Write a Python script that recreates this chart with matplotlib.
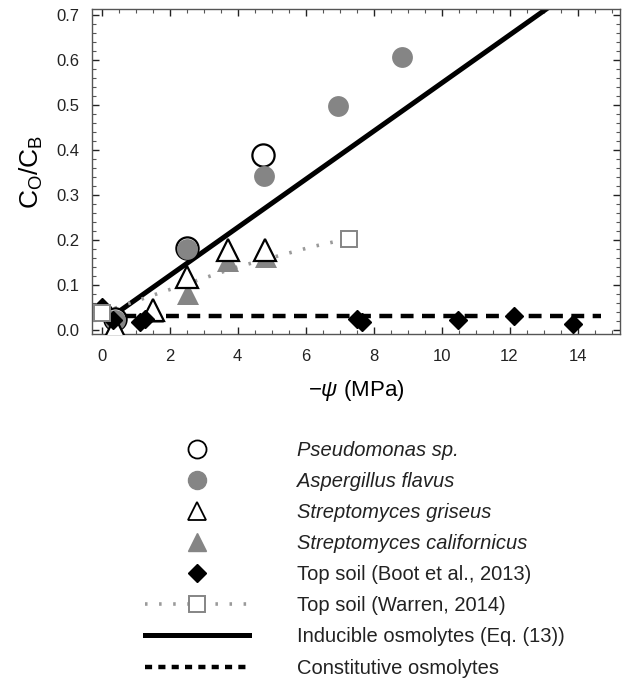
import matplotlib
matplotlib.use('Agg')
import matplotlib.pyplot as plt
from matplotlib.lines import Line2D
from matplotlib.ticker import MultipleLocator, FormatStrFormatter

plt.rcParams['font.family'] = ['Liberation Sans', 'DejaVu Sans']
plt.rcParams['mathtext.fontset'] = 'custom'
plt.rcParams['mathtext.rm'] = 'Liberation Sans'
plt.rcParams['mathtext.it'] = 'Liberation Sans:italic'

# data
pseudo_x = [0.4, 2.5, 4.75]
pseudo_y = [0.025, 0.181, 0.388]

asper_x = [0.4, 2.5, 4.78, 6.96, 8.85]
asper_y = [0.022, 0.180, 0.343, 0.497, 0.607]

griseus_x = [0.4, 1.5, 2.52, 3.72, 4.8]
griseus_y = [0.005, 0.045, 0.118, 0.178, 0.178]

calif_x = [0.4, 1.52, 2.55, 3.72, 4.85]
calif_y = [0.000, 0.040, 0.080, 0.153, 0.162]

boot_x = [0.0, 0.33, 1.13, 1.27, 7.5, 7.65, 10.49, 12.12, 13.87]
boot_y = [0.050, 0.022, 0.018, 0.025, 0.024, 0.017, 0.023, 0.031, 0.014]

warren_x = [0.0, 7.27]
warren_y = [0.038, 0.203]
warren_fit_x = [0.0, 1.7, 4.0, 6.2, 7.27]
warren_fit_y = [0.038, 0.082, 0.140, 0.185, 0.203]

induc_x = [0.4, 14.0]
induc_y = [0.035, 0.762]

const_x = [0.0, 14.7]
const_y = [0.030, 0.030]

labels = ['Pseudomonas sp.', 'Aspergillus flavus', 'Streptomyces griseus',
          'Streptomyces californicus', 'Top soil (Boot et al., 2013)',
          'Top soil (Warren, 2014)', 'Inducible osmolytes (Eq. (13))',
          'Constitutive osmolytes']

gray = '#858585'

fig = plt.figure(figsize=(6.28, 6.80), dpi=100)
ax = fig.add_axes([92/628, 1-334/680, 528/628, 325/680])

ax.plot(induc_x, induc_y, color='black', lw=3.6, solid_capstyle='butt', zorder=2)
ax.plot(const_x, const_y, color='black', lw=3.2, dashes=(2.9, 1.9), zorder=2)
ax.plot(warren_fit_x, warren_fit_y, color='#9a9a9a', lw=2.6, dashes=(0.7, 3.2), zorder=2)

ax.plot(pseudo_x, pseudo_y, 'o', ms=16, mfc='white', mec='black', mew=1.6, zorder=3)
ax.plot(asper_x, asper_y, 'o', ms=15, mfc=gray, mec=gray, mew=0, zorder=4)
ax.plot(calif_x, calif_y, '^', ms=16, mfc=gray, mec=gray, mew=0, zorder=3)
ax.plot(griseus_x, griseus_y, '^', ms=16, mfc='white', mec='black', mew=1.6, zorder=4)
ax.plot(boot_x, boot_y, 'D', ms=9.5, mfc='black', mec='black', zorder=5)
ax.plot(warren_x, warren_y, 's', ms=12, mfc='white', mec=gray, mew=1.4, zorder=5)

ax.set_xlim(-0.28, 15.25)
ax.set_ylim(-0.009, 0.713)
ax.xaxis.set_major_locator(MultipleLocator(2))
ax.xaxis.set_minor_locator(MultipleLocator(0.5))
ax.yaxis.set_major_locator(MultipleLocator(0.1))
ax.yaxis.set_minor_locator(MultipleLocator(0.02))
ax.yaxis.set_major_formatter(FormatStrFormatter('%.1f'))
ax.tick_params(which='both', direction='in', top=True, right=True, color='#555555')
ax.tick_params(which='major', length=5, width=1, labelsize=12, colors='#222222')
ax.tick_params(which='minor', length=3, width=0.8)
ax.tick_params(axis='x', pad=11)
ax.tick_params(axis='y', pad=9)
for s in ax.spines.values():
    s.set_color('#555555')
    s.set_linewidth(1)

ax.set_xlabel(r'$-\mathit{\psi}$ (MPa)', fontsize=16, labelpad=10)
ax.set_ylabel(r'$\mathregular{C_O/C_B}$', fontsize=19, labelpad=8)

handles = [
    Line2D([], [], ls='none', marker='o', ms=13, mfc='white', mec='black', mew=1.3),
    Line2D([], [], ls='none', marker='o', ms=13, mfc=gray, mec=gray),
    Line2D([], [], ls='none', marker='^', ms=13, mfc='white', mec='black', mew=1.3),
    Line2D([], [], ls='none', marker='^', ms=13, mfc=gray, mec=gray),
    Line2D([], [], ls='none', marker='D', ms=9, mfc='black', mec='black'),
    Line2D([], [], color='#9a9a9a', lw=2.6, dashes=(0.7, 3.2), marker='s', ms=12,
           mfc='white', mec=gray, mew=1.4),
    Line2D([], [], color='black', lw=3.6),
    Line2D([], [], color='black', lw=3.2, dashes=(1.6, 1.4)),
]
leg = fig.legend(handles, labels, loc='upper left', bbox_to_anchor=(145/628, 1-441/680),
                 frameon=False, fontsize=14.5, handlelength=5.15, handletextpad=2.4,
                 labelspacing=0.6, borderpad=0, borderaxespad=0, numpoints=1)
for t in leg.get_texts()[:4]:
    t.set_fontstyle('italic')
for t in leg.get_texts():
    t.set_color('#222222')

fig.savefig('out.png', dpi=100)
